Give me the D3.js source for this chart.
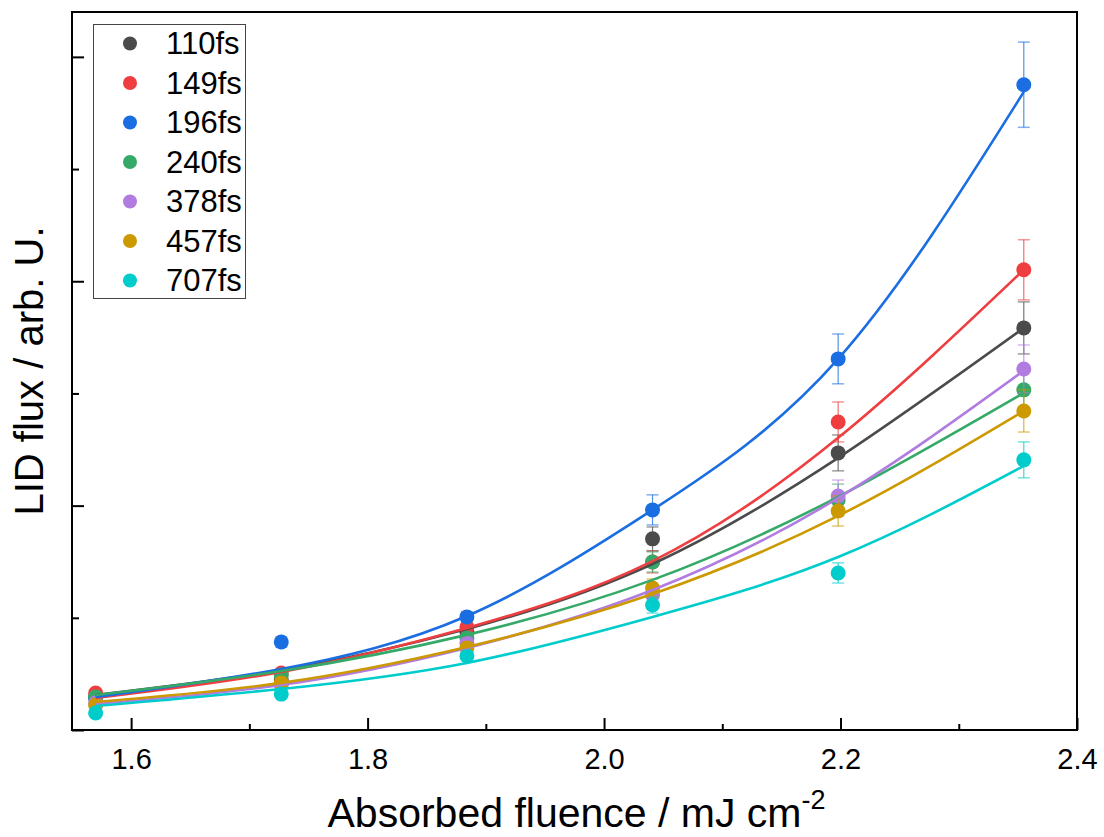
<!DOCTYPE html>
<html>
<head>
<meta charset="utf-8">
<script src="https://cdn.jsdelivr.net/npm/d3@7/dist/d3.min.js"></script>
<style>
  html, body { margin: 0; padding: 0; background: #ffffff; }
  svg { display: block; font-family: "Liberation Sans", Arial, sans-serif; }
</style>
</head>
<body>
<div id="chart"></div>
<script>
// LID flux vs absorbed fluence, one series per pulse duration

const fluence = [1.570, 1.727, 1.884, 2.041, 2.198, 2.355];
const seriesNames = ['110fs', '149fs', '196fs', '240fs', '378fs', '457fs', '707fs'];
const seriesColors = ['#4b4b4b', '#ef3e40', '#1a6ee2', '#35aa68', '#b07ce0', '#cc9900', '#00cccc'];

// measured points
const flux110 = [0.147, 0.223, 0.437, 0.852, 1.235, 1.792];
const flux149 = [0.165, 0.254, 0.459, 0.749, 1.373, 2.051];
const flux196 = [0.143, 0.392, 0.504, 0.981, 1.654, 2.876];
const flux240 = [0.147, 0.245, 0.410, 0.749, 1.025, 1.516];
const flux378 = [0.120, 0.201, 0.388, 0.602, 1.043, 1.609];
const flux457 = [0.111, 0.210, 0.366, 0.633, 0.976, 1.422];
const flux707 = [0.076, 0.160, 0.330, 0.557, 0.700, 1.204];

// error bar half widths
const err110 = [0.013, 0.018, 0.027, 0.053, 0.080, 0.116];
const err149 = [0.013, 0.018, 0.027, 0.049, 0.089, 0.134];
const err196 = [0.013, 0.022, 0.022, 0.067, 0.111, 0.190];
const err240 = [0.013, 0.018, 0.022, 0.045, 0.071, 0.098];
const err378 = [0.013, 0.018, 0.022, 0.045, 0.071, 0.107];
const err457 = [0.013, 0.018, 0.022, 0.040, 0.067, 0.094];
const err707 = [0.009, 0.013, 0.018, 0.036, 0.045, 0.080];

// fitted curves, read at the same fluence values
const fit110 = [0.156, 0.267, 0.450, 0.740, 1.213, 1.792];
const fit149 = [0.143, 0.259, 0.455, 0.753, 1.302, 2.051];
const fit196 = [0.147, 0.272, 0.508, 0.981, 1.654, 2.844];
const fit240 = [0.156, 0.263, 0.424, 0.669, 1.039, 1.502];
const fit378 = [0.116, 0.201, 0.366, 0.624, 1.034, 1.601];
const fit457 = [0.125, 0.210, 0.370, 0.606, 0.954, 1.422];
const fit707 = [0.107, 0.183, 0.299, 0.504, 0.771, 1.177];

const xMajorTicks = [1.6, 1.8, 2.0, 2.2, 2.4];
const xMinorTicks = [1.7, 1.9, 2.1, 2.3];
const yMajorTicks = [0, 1, 2, 3];
const yMinorTicks = [0.5, 1.5, 2.5];

const pointSets = [flux110, flux149, flux196, flux240, flux378, flux457, flux707];
const errSets = [err110, err149, err196, err240, err378, err457, err707];
const fitSets = [fit110, fit149, fit196, fit240, fit378, fit457, fit707];

const width = 1104, height = 837;
const plotLeft = 72, plotRight = 1077, plotTop = 12, plotBottom = 730;

const svg = d3.select('#chart').append('svg')
    .attr('width', width)
    .attr('height', height);

const x = d3.scaleLinear().domain([1.55, 2.4]).range([plotLeft, plotRight]);
const y = d3.scaleLinear().domain([0, 3.2]).range([plotBottom, plotTop]);

// x axis, ticks pointing inward
const xAxis = svg.append('g')
    .attr('transform', 'translate(0,' + plotBottom + ')')
    .call(d3.axisBottom(x).tickValues(xMajorTicks).tickSizeInner(-12).tickSizeOuter(0)
        .tickPadding(18).tickFormat(d3.format('.1f')));
xAxis.select('.domain').remove();
xAxis.selectAll('line').attr('stroke', '#000').attr('stroke-width', 2);
xAxis.selectAll('text').attr('font-size', 29).attr('fill', '#000')
    .attr('font-family', '"Liberation Sans", Arial, sans-serif');

const xMinor = svg.append('g')
    .attr('transform', 'translate(0,' + plotBottom + ')')
    .call(d3.axisBottom(x).tickValues(xMinorTicks).tickSizeInner(-6).tickSizeOuter(0).tickFormat(''));
xMinor.select('.domain').remove();
xMinor.selectAll('line').attr('stroke', '#000').attr('stroke-width', 2);

// y axis, no labels
const yAxis = svg.append('g')
    .attr('transform', 'translate(' + plotLeft + ',0)')
    .call(d3.axisLeft(y).tickValues(yMajorTicks).tickSizeInner(-12).tickSizeOuter(0).tickFormat(''));
yAxis.select('.domain').remove();
yAxis.selectAll('line').attr('stroke', '#000').attr('stroke-width', 2);

const yMinor = svg.append('g')
    .attr('transform', 'translate(' + plotLeft + ',0)')
    .call(d3.axisLeft(y).tickValues(yMinorTicks).tickSizeInner(-7).tickSizeOuter(0).tickFormat(''));
yMinor.select('.domain').remove();
yMinor.selectAll('line').attr('stroke', '#000').attr('stroke-width', 2);

// frame
svg.append('rect')
    .attr('x', plotLeft).attr('y', plotTop)
    .attr('width', plotRight - plotLeft).attr('height', plotBottom - plotTop)
    .attr('fill', 'none').attr('stroke', '#000').attr('stroke-width', 2);

// error bars and points
const plot = svg.append('g');
seriesNames.forEach(function(name, i) {
    const g = plot.append('g').attr('class', 'series');
    const rows = fluence.map((f, j) => ({ x: f, v: pointSets[i][j], e: errSets[i][j] }));

    g.selectAll('line.err')
        .data(rows)
        .join('line')
        .attr('class', 'err')
        .attr('x1', d => x(d.x)).attr('x2', d => x(d.x))
        .attr('y1', d => y(d.v - d.e)).attr('y2', d => y(d.v + d.e))
        .attr('stroke', seriesColors[i]).attr('stroke-opacity', 0.75).attr('stroke-width', 1.2);

    g.selectAll('line.capTop')
        .data(rows)
        .join('line')
        .attr('class', 'capTop')
        .attr('x1', d => x(d.x) - 6).attr('x2', d => x(d.x) + 6)
        .attr('y1', d => y(d.v + d.e)).attr('y2', d => y(d.v + d.e))
        .attr('stroke', seriesColors[i]).attr('stroke-opacity', 0.55).attr('stroke-width', 1.5);

    g.selectAll('line.capBot')
        .data(rows)
        .join('line')
        .attr('class', 'capBot')
        .attr('x1', d => x(d.x) - 6).attr('x2', d => x(d.x) + 6)
        .attr('y1', d => y(d.v - d.e)).attr('y2', d => y(d.v - d.e))
        .attr('stroke', seriesColors[i]).attr('stroke-opacity', 0.55).attr('stroke-width', 1.5);

    g.selectAll('circle')
        .data(rows)
        .join('circle')
        .attr('cx', d => x(d.x))
        .attr('cy', d => y(d.v))
        .attr('r', 7.5)
        .attr('fill', seriesColors[i]);
});

// fit curves on top of the points
const line = d3.line()
    .x(d => x(d[0]))
    .y(d => y(d[1]))
    .curve(d3.curveNatural);

seriesNames.forEach(function(name, i) {
    plot.append('path')
        .datum(fluence.map((f, j) => [f, fitSets[i][j]]))
        .attr('d', line)
        .attr('fill', 'none')
        .attr('stroke', seriesColors[i])
        .attr('stroke-width', 2.6);
});

// legend
const legend = svg.append('g');
legend.append('rect')
    .attr('x', 93.5).attr('y', 24.5)
    .attr('width', 152).attr('height', 274)
    .attr('fill', '#fff').attr('stroke', '#444').attr('stroke-width', 1);

const legendY = d3.scalePoint().domain(seriesNames).range([43.5, 280.5]);
legend.selectAll('circle')
    .data(seriesNames)
    .join('circle')
    .attr('cx', 130)
    .attr('cy', d => legendY(d))
    .attr('r', 7)
    .attr('fill', (d, i) => seriesColors[i]);

legend.selectAll('text')
    .data(seriesNames)
    .join('text')
    .attr('x', 166)
    .attr('y', d => legendY(d) + 10.5)
    .attr('font-size', 31)
    .attr('fill', '#000')
    .text(d => d);

// axis titles
const xTitle = svg.append('text')
    .attr('x', (plotLeft + plotRight) / 2 + 2)
    .attr('y', 827)
    .attr('text-anchor', 'middle')
    .attr('font-size', 41)
    .attr('fill', '#000');
xTitle.append('tspan').text('Absorbed fluence / mJ cm');
xTitle.append('tspan').attr('font-size', 27).attr('dy', -18).text('-2');

svg.append('text')
    .attr('transform', 'translate(43,' + ((plotTop + plotBottom) / 2) + ') rotate(-90)')
    .attr('text-anchor', 'middle')
    .attr('font-size', 40)
    .attr('fill', '#000')
    .text('LID flux / arb. U.');
</script>
</body>
</html>
